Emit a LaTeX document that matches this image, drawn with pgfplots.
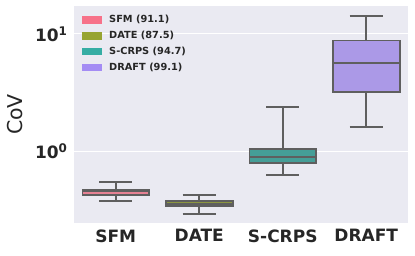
\documentclass[border=0pt]{standalone}
\usepackage{pgfplots}
\pgfplotsset{compat=1.18}
\usepackage{fontspec}
\setmainfont{DejaVu Sans}
\definecolor{bgc}{HTML}{EAEAF2}
\definecolor{edgec}{HTML}{5F5F5F}
\definecolor{sfmL}{HTML}{F77189}
\definecolor{dateL}{HTML}{97A431}
\definecolor{scrpsL}{HTML}{36ADA4}
\definecolor{draftL}{HTML}{A48CF4}
\definecolor{sfmB}{HTML}{E68294}
\definecolor{dateB}{HTML}{8C9640}
\definecolor{scrpsB}{HTML}{459E97}
\definecolor{draftB}{HTML}{AB99E7}
\begin{document}
\begin{tikzpicture}
\path[use as bounding box] (0,0) rectangle (415pt,256pt);
\begin{axis}[
  at={(74pt,33pt)}, anchor=south west,
  scale only axis, width=334pt, height=217pt,
  ymode=log, ymin=0.245, ymax=17.3,
  xmin=-0.5, xmax=3.5,
  xtick={0,1,2,3},
  xticklabels={SFM,DATE,S-CRPS,DRAFT},
  ytick={1,10},
  yticklabels={10\textsuperscript{0},10\textsuperscript{1}},
  minor y tick num=0,
  axis background/.style={fill=bgc},
  axis line style={draw=none},
  major tick length=0pt, minor tick length=0pt,
  ymajorgrids, major grid style={white, line width=1pt},
  tick label style={font=\fontsize{17}{20}\selectfont\bfseries, text=black!85},
  xticklabel style={yshift=-3pt},
  yticklabel style={xshift=-3pt},
  ylabel={CoV},
  ylabel style={font=\fontsize{20.5}{24}\selectfont, text=black!85, yshift=5pt},
  legend style={at={(0,1)}, anchor=north west, xshift=6pt, yshift=-5pt,
    draw=none, fill=none, font=\fontsize{9.8}{11}\selectfont\bfseries, text=black!85,
    row sep=3pt, inner sep=2pt},
  legend cell align=left,
  legend image code/.code={\fill[#1] (0pt,-3.9pt) rectangle (20pt,3.9pt); \path (25pt,0pt);},
  every axis plot/.append style={line width=1.7pt, draw=edgec},
]
\addlegendimage{fill=sfmL, draw=none}
\addlegendentry{SFM (91.1)}
\addlegendimage{fill=dateL, draw=none}
\addlegendentry{DATE (87.5)}
\addlegendimage{fill=scrpsL, draw=none}
\addlegendentry{S-CRPS (94.7)}
\addlegendimage{fill=draftL, draw=none}
\addlegendentry{DRAFT (99.1)}

% SFM: lw 0.379, q1 0.422, med 0.456, q3 0.474, uw 0.551
\addplot[forget plot, fill=sfmB] coordinates {(-0.4,0.422) (0.4,0.422) (0.4,0.474) (-0.4,0.474)} --cycle;
\addplot[forget plot] coordinates {(-0.4,0.456) (0.4,0.456)};
\addplot[forget plot] coordinates {(0,0.474) (0,0.551)};
\addplot[forget plot] coordinates {(0,0.422) (0,0.379)};
\addplot[forget plot] coordinates {(-0.2,0.551) (0.2,0.551)};
\addplot[forget plot] coordinates {(-0.2,0.379) (0.2,0.379)};
% DATE: lw 0.292, q1 0.340, med 0.357, q3 0.377, uw 0.426
\addplot[forget plot, fill=dateB] coordinates {(0.6,0.340) (1.4,0.340) (1.4,0.377) (0.6,0.377)} --cycle;
\addplot[forget plot] coordinates {(0.6,0.357) (1.4,0.357)};
\addplot[forget plot] coordinates {(1,0.377) (1,0.426)};
\addplot[forget plot] coordinates {(1,0.340) (1,0.292)};
\addplot[forget plot] coordinates {(0.8,0.426) (1.2,0.426)};
\addplot[forget plot] coordinates {(0.8,0.292) (1.2,0.292)};
% S-CRPS: lw 0.628, q1 0.79, med 0.90, q3 1.04, uw 2.39
\addplot[forget plot, fill=scrpsB] coordinates {(1.6,0.79) (2.4,0.79) (2.4,1.04) (1.6,1.04)} --cycle;
\addplot[forget plot] coordinates {(1.6,0.90) (2.4,0.90)};
\addplot[forget plot] coordinates {(2,1.04) (2,2.39)};
\addplot[forget plot] coordinates {(2,0.79) (2,0.628)};
\addplot[forget plot] coordinates {(1.8,2.39) (2.2,2.39)};
\addplot[forget plot] coordinates {(1.8,0.628) (2.2,0.628)};
% DRAFT: lw 1.62, q1 3.22, med 5.62, q3 8.77, uw 14.3
\addplot[forget plot, fill=draftB] coordinates {(2.6,3.22) (3.4,3.22) (3.4,8.77) (2.6,8.77)} --cycle;
\addplot[forget plot] coordinates {(2.6,5.62) (3.4,5.62)};
\addplot[forget plot] coordinates {(3,8.77) (3,14.3)};
\addplot[forget plot] coordinates {(3,3.22) (3,1.62)};
\addplot[forget plot] coordinates {(2.8,14.3) (3.2,14.3)};
\addplot[forget plot] coordinates {(2.8,1.62) (3.2,1.62)};
\end{axis}
\end{tikzpicture}
\end{document}
